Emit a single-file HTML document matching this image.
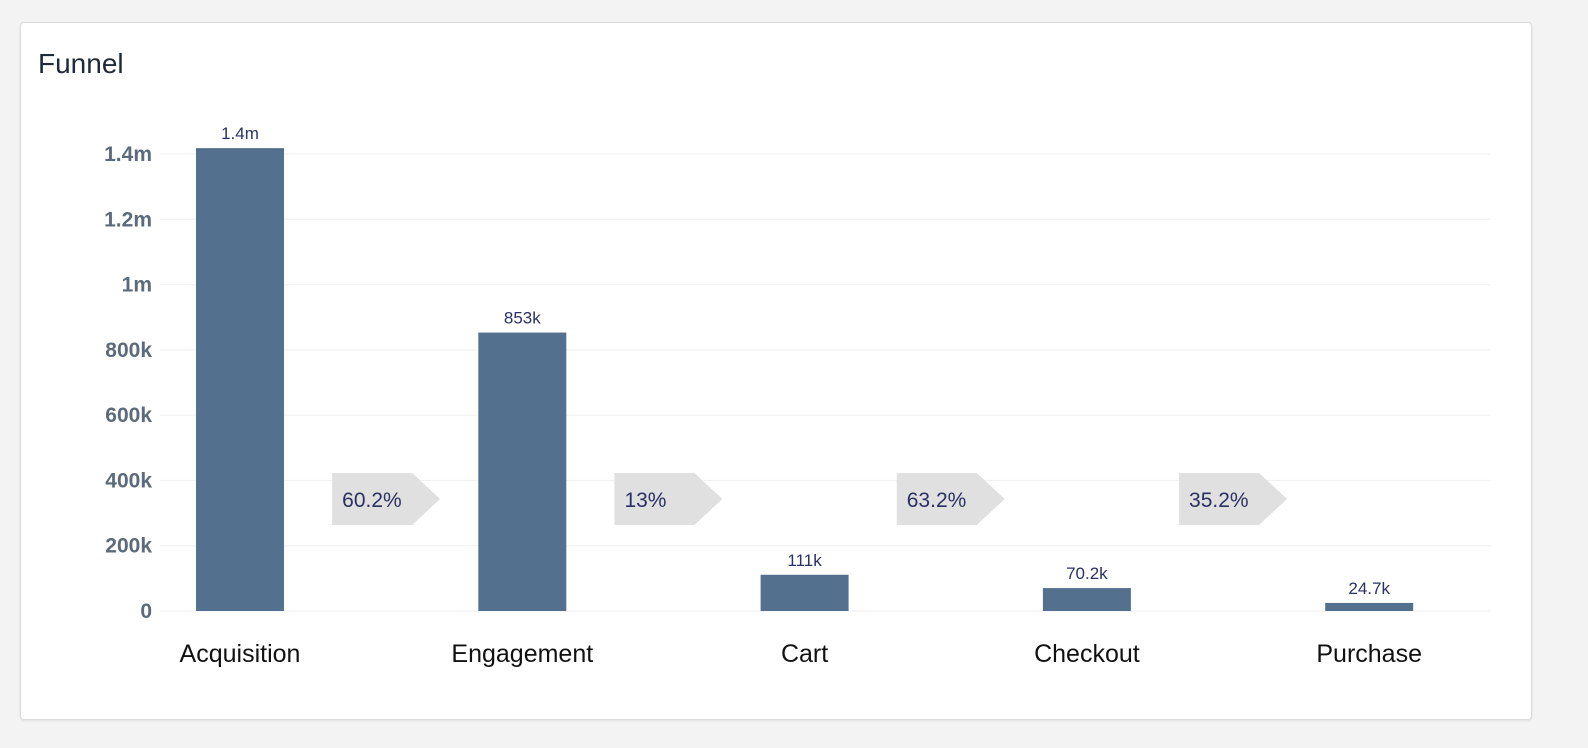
<!DOCTYPE html>
<html><head><meta charset="utf-8"><style>
html,body{margin:0;padding:0;background:#f3f3f3;width:1588px;height:748px;overflow:hidden;font-family:"Liberation Sans",sans-serif}
.card{position:absolute;left:20px;top:22px;width:1510px;height:696px;background:#fff;border:1px solid #dcdcdc;border-radius:4px;box-shadow:0 1px 2px rgba(0,0,0,.08)}
.title{position:absolute;left:38px;top:48px;font-size:28px;color:#1f2937}
svg{position:absolute;left:0;top:0}
</style></head><body>
<div class="card"></div>
<div class="title">Funnel</div>
<svg id="chart" width="1588" height="748"></svg>
<script>
const categories=["Acquisition","Engagement","Cart","Checkout","Purchase"];
const values=[1418000,853000,111000,70200,24700];
const valueLabels=["1.4m","853k","111k","70.2k","24.7k"];
const tickValues=[0,200000,400000,600000,800000,1000000,1200000,1400000];
const tickLabels=["0","200k","400k","600k","800k","1m","1.2m","1.4m"];
const NS="http://www.w3.org/2000/svg";
const svg=document.getElementById('chart');
const y0=611,pxPer=(611-154)/1400000;
const yScale=v=>y0-v*pxPer;
const xCenter=i=>240+i*282.3;
const bw=88;
function mk(t,a){const e=document.createElementNS(NS,t);for(const k in a)e.setAttribute(k,a[k]);svg.appendChild(e);return e;}
tickValues.forEach((v,i)=>{
  const l=mk('line',{x1:160,x2:1490,y1:yScale(v),y2:yScale(v),stroke:'#efefef','stroke-width':1});
  
  
  const t=mk('text',{x:152,y:yScale(v)+7,'text-anchor':'end','font-size':21,fill:'#5b6b7b','font-weight':'bold'});
  t.textContent=tickLabels[i];
  
  
});
values.forEach((v,i)=>{
  const cx=xCenter(i);
  const r=mk('rect',{x:cx-bw/2,y:yScale(v),width:bw,height:y0-yScale(v),fill:'#53718f'});
  
  
  const vl=mk('text',{x:cx,y:yScale(v)-9,'text-anchor':'middle','font-size':17,fill:'#2a3163'});
  vl.textContent=valueLabels[i];
  
  
  const cl=mk('text',{x:cx,y:662,'text-anchor':'middle','font-size':25,fill:'#111'});
  cl.textContent=categories[i];
  
  
  if(i<values.length-1){
    const m=(xCenter(i)+xCenter(i+1))/2;
    const p=mk('polygon',{points:`${m-49},473 ${m+31},473 ${m+59},499 ${m+31},525 ${m-49},525`,fill:'#e0e0e0'});
    
    
    const pct=values[i+1]/values[i]*100;
    let s=pct.toFixed(1);if(s.endsWith('.0'))s=s.slice(0,-2);
    const pt=mk('text',{x:m-39,y:507,'font-size':21,fill:'#2a3163'});
    pt.textContent=s+'%';
    
    
  }
});
</script>
</body></html>
